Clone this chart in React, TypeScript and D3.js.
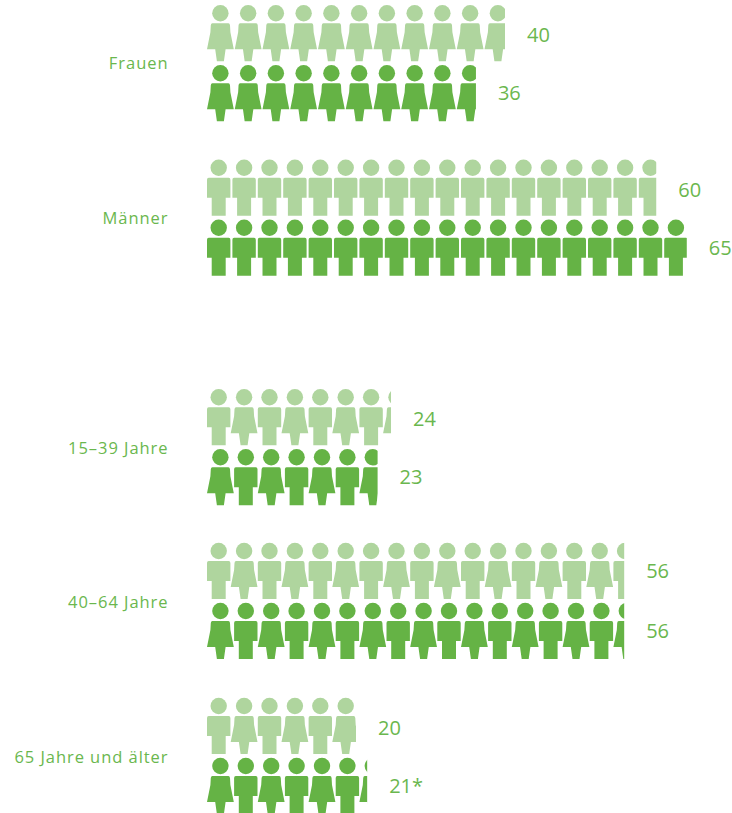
import React from "react";
import * as d3 from "d3";

const categories = ["Frauen", "Männer", "15–39 Jahre", "40–64 Jahre", "65 Jahre und älter"];
const iconKinds = ["woman", "man", "mixed", "mixed", "mixed"];
const lightLabels = ["40", "60", "24", "56", "20"];
const darkLabels = ["36", "65", "23", "56", "21*"];
const lightValues = [40, 60.3, 24.7, 56, 20];
const darkValues = [36.1, 64.4, 22.9, 56, 21.5];
const lightHeadY = [13.3, 167.7, 397.3, 551, 706];
const darkHeadY = [73.3, 227.7, 457.3, 611, 766];
const lightLabelY = [34.2, 189.2, 418.2, 570.2, 727.2];
const darkLabelY = [92.2, 247.2, 476.2, 630.2, 785.2];
const categoryY = [62, 217.2, 447.2, 601.2, 756.2];

const LIGHT = "#afd59e";
const DARK = "#65b345";
const TEXT = "#6ab74e";
const FONT = "'Open Sans', 'Noto Sans', sans-serif";

const x = d3.scaleLinear().domain([0, 10]).range([207, 281.5]);

const WOMAN = { w: 26.8, pitch: 27.75 };
const MAN = { w: 23.4, pitch: 25.4 };

// Icon outlines relative to head centre (x = 0, y = 0)
const womanPath = d3.path();
womanPath.moveTo(-8, 10);
womanPath.lineTo(8, 10);
womanPath.quadraticCurveTo(9.4, 10, 9.6, 12);
womanPath.lineTo(10, 19);
womanPath.lineTo(13.4, 36);
womanPath.lineTo(5.2, 36);
womanPath.lineTo(3.5, 48);
womanPath.lineTo(-3.5, 48);
womanPath.lineTo(-5.2, 36);
womanPath.lineTo(-13.4, 36);
womanPath.lineTo(-10, 19);
womanPath.lineTo(-9.6, 12);
womanPath.quadraticCurveTo(-9.4, 10, -8, 10);
womanPath.closePath();

const manPath = d3.path();
manPath.moveTo(-10, 10);
manPath.lineTo(10, 10);
manPath.quadraticCurveTo(11.7, 10, 11.7, 12);
manPath.lineTo(11.7, 30);
manPath.lineTo(7, 30);
manPath.lineTo(7, 48);
manPath.lineTo(-7, 48);
manPath.lineTo(-7, 30);
manPath.lineTo(-11.7, 30);
manPath.lineTo(-11.7, 12);
manPath.quadraticCurveTo(-11.7, 10, -10, 10);
manPath.closePath();

type Kind = "woman" | "man";

function widthOf(k: Kind) {
  return k === "woman" ? WOMAN.w : MAN.w;
}

function buildIcons(kind: string, startKind: Kind, end: number) {
  const out: { kind: Kind; cx: number }[] = [];
  const pitch = kind === "woman" ? WOMAN.pitch : MAN.pitch;
  const firstKind: Kind = kind === "mixed" ? startKind : (kind as Kind);
  const first = x(0) + widthOf(firstKind) / 2;
  for (let i = 0; ; i++) {
    const k: Kind =
      kind === "mixed" ? (i % 2 === 0 ? startKind : startKind === "man" ? "woman" : "man") : (kind as Kind);
    const cx = first + i * pitch;
    if (cx - widthOf(k) / 2 >= end) break;
    out.push({ kind: k, cx });
  }
  return out;
}

function Row({ id, kind, startKind, value, headY, labelY, color, label }: any) {
  const end = x(value);
  const icons = buildIcons(kind, startKind, end);
  return (
    <g>
      <clipPath id={id}>
        <rect x={x(0) - 2} y={headY - 12} width={end - x(0) + 2} height={64} />
      </clipPath>
      <g clipPath={`url(#${id})`} fill={color}>
        {icons.map((ic, i) => (
          <g key={i} transform={`translate(${ic.cx},${headY})`}>
            <circle r={8.2} />
            <path d={(ic.kind === "woman" ? womanPath : manPath).toString()} />
          </g>
        ))}
      </g>
      <text x={end + 22} y={labelY} fontSize={20} fill={TEXT} dominantBaseline="central" fontFamily={FONT}>
        {label}
      </text>
    </g>
  );
}

export default function App() {
  return (
    <svg
      width={732}
      height={813}
      viewBox="0 0 732 813"
      style={{ position: "absolute", left: 0, top: 0, display: "block" }}
    >
      {categories.map((c, i) => (
        <g key={c}>
          <text
            x={168.5}
            y={categoryY[i]}
            textAnchor="end"
            dominantBaseline="central"
            fontSize={16.5}
            letterSpacing={0.95}
            fill={TEXT}
            fontFamily={FONT}
          >
            {c}
          </text>
          <Row id={`l${i}`} kind={iconKinds[i]} startKind="man" value={lightValues[i]} headY={lightHeadY[i]} labelY={lightLabelY[i]} color={LIGHT} label={lightLabels[i]} />
          <Row id={`d${i}`} kind={iconKinds[i]} startKind="woman" value={darkValues[i]} headY={darkHeadY[i]} labelY={darkLabelY[i]} color={DARK} label={darkLabels[i]} />
        </g>
      ))}
    </svg>
  );
}
